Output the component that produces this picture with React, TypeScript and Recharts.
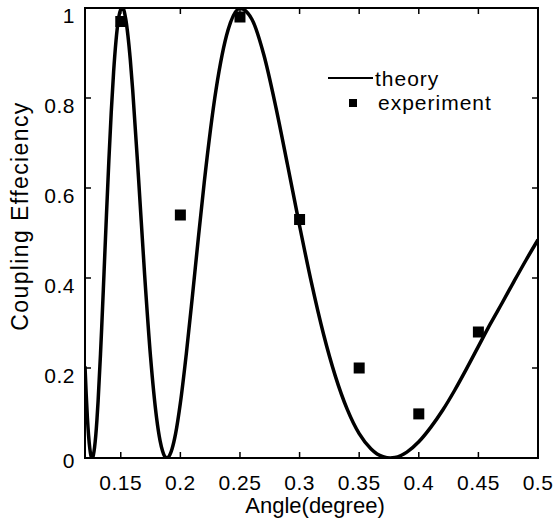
import React from 'react';
import { ComposedChart, Line, Scatter, XAxis, YAxis, ReferenceArea } from 'recharts';

// theory curve
const theoryAngle = [
  0.12, 0.121, 0.122, 0.123, 0.124, 0.125, 0.126, 0.127, 0.128, 0.129, 0.13, 0.131, 0.133, 0.134,
  0.136, 0.138, 0.14, 0.142, 0.144, 0.146, 0.148, 0.15, 0.152, 0.154, 0.156, 0.158, 0.16, 0.165,
  0.17, 0.175, 0.18, 0.183, 0.185, 0.187, 0.189, 0.191, 0.193, 0.196, 0.2, 0.205, 0.21, 0.215,
  0.22, 0.23, 0.24, 0.25, 0.26, 0.27, 0.28, 0.29, 0.3, 0.31, 0.32, 0.33, 0.34, 0.35, 0.36, 0.365,
  0.37, 0.376, 0.38, 0.385, 0.39, 0.4, 0.41, 0.42, 0.43, 0.44, 0.45, 0.46, 0.47, 0.48, 0.49, 0.5,
];
const theoryCoupling = [
  0.204, 0.142, 0.09, 0.05, 0.022, 0.005, 0, 0.006, 0.023, 0.049, 0.084, 0.127, 0.231, 0.289,
  0.414, 0.54, 0.66, 0.768, 0.858, 0.927, 0.974, 0.997, 0.998, 0.978, 0.939, 0.885, 0.818, 0.618,
  0.408, 0.224, 0.09, 0.038, 0.016, 0.003, 0, 0.006, 0.02, 0.054, 0.122, 0.232, 0.357, 0.487,
  0.612, 0.82, 0.951, 0.999, 0.975, 0.896, 0.781, 0.65, 0.516, 0.389, 0.276, 0.182, 0.108, 0.054, 0.02, 0.009,
  0.003, 0, 0.001, 0.0055, 0.013, 0.036, 0.068, 0.106, 0.15, 0.198, 0.248, 0.298, 0.345, 0.393, 0.44, 0.485,
];

const expAngle = [0.15, 0.2, 0.25, 0.3, 0.35, 0.4, 0.45];
const expCoupling = [0.97, 0.54, 0.98, 0.53, 0.2, 0.098, 0.28];

const xTicks = [0.15, 0.2, 0.25, 0.3, 0.35, 0.4, 0.45, 0.5];
const yTicks = [0, 0.2, 0.4, 0.6, 0.8, 1];

const theoryData = theoryAngle.map((x, i) => ({ x, y: theoryCoupling[i] }));
const expData = expAngle.map((x, i) => ({ x, y: expCoupling[i] }));

const W = 554;
const H = 523;
const PLOT_TOP = 8;
const PLOT_RIGHT = 538;
const FONT = '"Liberation Sans", Arial, Helvetica, sans-serif';
const TICK_LEN = 6;

function XTick(props: any) {
  const { x, y, payload } = props;
  return (
    <g>
      <line x1={x} y1={y} x2={x} y2={y - TICK_LEN} stroke="#000" strokeWidth={1.5} />
      <line x1={x} y1={PLOT_TOP} x2={x} y2={PLOT_TOP + TICK_LEN} stroke="#000" strokeWidth={1.5} />
      <text x={x} y={y + 32} textAnchor="middle" fontSize={21} letterSpacing={0.5} fontFamily={FONT} fill="#000">
        {String(payload.value)}
      </text>
    </g>
  );
}

function YTick(props: any) {
  const { x, y, payload } = props;
  const dy = payload.value === 0 ? 2 : 7;
  return (
    <g>
      <line x1={x} y1={y} x2={x + TICK_LEN} y2={y} stroke="#000" strokeWidth={1.5} />
      <line x1={PLOT_RIGHT} y1={y} x2={PLOT_RIGHT - TICK_LEN} y2={y} stroke="#000" strokeWidth={1.5} />
      <text x={75} y={y + dy} textAnchor="end" dominantBaseline="central" fontSize={21} letterSpacing={0.5} fontFamily={FONT} fill="#000">
        {String(payload.value)}
      </text>
    </g>
  );
}

// legend drawn as an overlay so it does not take space from the plot
function LegendBox() {
  return (
    <svg width={200} height={70} style={{ position: 'absolute', left: 320, top: 60 }}>
      <line x1={8} y1={18} x2={53} y2={18} stroke="#000" strokeWidth={2} />
      <text x={55} y={26} fontSize={21} letterSpacing={1} fontFamily={FONT} fill="#000">theory</text>
      <rect x={29} y={39} width={8} height={8} fill="#000" />
      <text x={58} y={50} fontSize={21} letterSpacing={1} fontFamily={FONT} fill="#000">experiment</text>
    </svg>
  );
}

const square = (p: any) => (
  <rect x={p.cx - 5.5} y={p.cy - 5.5} width={11} height={11} fill="#000" />
);

export default function App() {
  return (
    <div style={{ position: 'absolute', left: 0, top: 0, width: W, height: H, background: '#fff' }}>
      <ComposedChart width={W} height={H} margin={{ top: PLOT_TOP, right: W - PLOT_RIGHT, bottom: 0, left: 0 }}>
        <XAxis
          type="number"
          dataKey="x"
          domain={[0.12, 0.5]}
          ticks={xTicks}
          interval={0}
          height={65}
          axisLine={false}
          tickLine={false}
          tickSize={0}
          tickMargin={0}
          tick={<XTick />}
          allowDataOverflow
          label={{
            content: () => (
              <text x={315} y={513} textAnchor="middle" fontSize={22} fontFamily={FONT} fill="#000">
                Angle(degree)
              </text>
            ),
          }}
        />
        <YAxis
          type="number"
          domain={[0, 1]}
          ticks={yTicks}
          interval={0}
          width={85}
          axisLine={false}
          tickLine={false}
          tickSize={0}
          tickMargin={0}
          tick={<YTick />}
          allowDataOverflow
          label={{
            content: () => (
              <text
                x={28}
                y={216}
                transform="rotate(-90 28 216)"
                textAnchor="middle"
                fontSize={23}
                letterSpacing={1.4}
                fontFamily={FONT}
                fill="#000"
              >
                Coupling Effeciency
              </text>
            ),
          }}
        />
        <ReferenceArea x1={0.12} x2={0.5} y1={0} y2={1} fill="none" stroke="#000" strokeWidth={2} />
        <Line
          data={theoryData}
          dataKey="y"
          type="monotone"
          stroke="#000"
          strokeWidth={3.5}
          dot={false}
          activeDot={false}
          isAnimationActive={false}
        />
        <Scatter data={expData} dataKey="y" fill="#000" shape={square} isAnimationActive={false} />
      </ComposedChart>
      <LegendBox />
    </div>
  );
}
